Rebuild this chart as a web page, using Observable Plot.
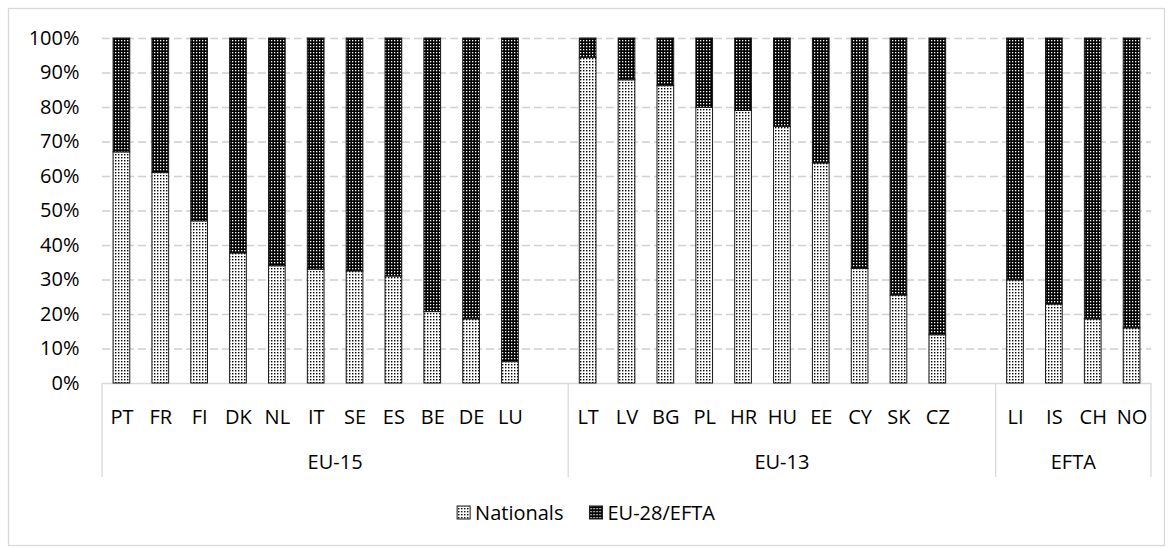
<!DOCTYPE html>
<html><head><meta charset="utf-8">
<script src="https://cdn.jsdelivr.net/npm/d3@7"></script>
<script src="https://cdn.jsdelivr.net/npm/@observablehq/plot@0.6"></script>
<style>
body{margin:0;background:#fff;font-family:"Open Sans",sans-serif;}
#chart{position:relative;width:1172px;height:548px;}
</style></head><body><div id="chart"></div>
<script>
// ---- data ----
const groupNames = ["EU-15", "EU-13", "EFTA"];
const eu15 = ["PT","FR","FI","DK","NL","IT","SE","ES","BE","DE","LU"];
const eu13 = ["LT","LV","BG","PL","HR","HU","EE","CY","SK","CZ"];
const efta = ["LI","IS","CH","NO"];
const seriesNames = ["Nationals", "EU-28/EFTA"];
// share of Nationals (%)
const nationals = [67, 61, 47, 37.7, 34, 33, 32.5, 31, 20.7, 18.6, 6.2,
                   94.4, 87.9, 86.2, 79.9, 79, 74.4, 63.8, 33.2, 25.5, 14,
                   29.9, 22.9, 18.6, 16];
// share of EU-28/EFTA (%)
const eu28efta = [33, 39, 53, 62.3, 66, 67, 67.5, 69, 79.3, 81.4, 93.8,
                  5.6, 12.1, 13.8, 20.1, 21, 25.6, 36.2, 66.8, 74.5, 86,
                  70.1, 77.1, 81.4, 84];
const yTicks = [0, 0.1, 0.2, 0.3, 0.4, 0.5, 0.6, 0.7, 0.8, 0.9, 1];

// ---- build table ----
const groupMembers = [eu15, eu13, efta];
const spacers = ["_gap1", "_gap2"];
const xDomain = [...eu15, spacers[0], ...eu13, spacers[1], ...efta];
const countries = [...eu15, ...eu13, ...efta];
const rows = [];
countries.forEach((c, i) => {
  rows.push({country: c, series: seriesNames[0], share: nationals[i] / 100});
  rows.push({country: c, series: seriesNames[1], share: eu28efta[i] / 100});
});

const FONT = "'Open Sans', sans-serif";
const chart = Plot.plot({
  width: 1172, height: 548,
  marginLeft: 102, marginRight: 21, marginTop: 38, marginBottom: 165,
  style: {fontFamily: FONT, fontSize: "20px", color: "#000", background: "transparent", overflow: "visible"},
  x: {domain: xDomain, paddingInner: 0.57, paddingOuter: 0.285, round: false, label: null},
  y: {domain: [0, 1], label: null},
  color: {type: "ordinal", domain: seriesNames, range: ["url(#patNat)", "url(#patEU)"]},
  marks: [
    Plot.gridY(yTicks.filter(d => d > 0), {stroke: "#d0d0d0", strokeOpacity: 1, strokeWidth: 1.3, strokeDasharray: "8,4"}),
    Plot.ruleY([0], {stroke: "#d9d9d9", strokeWidth: 1.3}),
    Plot.barY(rows, {x: "country", y: "share", fill: "series", z: "series", order: seriesNames, stroke: "#1a1a1a", strokeWidth: 1}),
    Plot.axisY({ticks: yTicks, tickFormat: d3.format(".0%"), tickSize: 0, tickPadding: 23, fontSize: 20, label: null}),
    Plot.axisX({tickSize: 0, tickPadding: 26, fontSize: 20, label: null, tickFormat: d => d.startsWith("_") ? "" : d})
  ]
});
document.getElementById("chart").appendChild(chart);

// ---- patterns ----
const svg = d3.select(chart);
const defs = svg.insert("defs", ":first-child");
const pn = defs.append("pattern").attr("id", "patNat").attr("patternUnits", "userSpaceOnUse").attr("width", 3).attr("height", 3);
pn.append("rect").attr("width", 3).attr("height", 3).attr("fill", "#fff");
pn.append("rect").attr("x", 1).attr("y", 1).attr("width", 1.4).attr("height", 1.4).attr("fill", "#000");
const pe = defs.append("pattern").attr("id", "patEU").attr("patternUnits", "userSpaceOnUse").attr("width", 3).attr("height", 3);
pe.append("rect").attr("width", 3).attr("height", 3).attr("fill", "#000");
pe.append("rect").attr("x", 1).attr("y", 1).attr("width", 1.3).attr("height", 1.3).attr("fill", "#fff");

// ---- group separators and labels, from the Plot scales ----
const xs = chart.scale("x");
const ys = chart.scale("y");
const step = xs.step, bw = xs.bandwidth;
const leftOf = d => xs.apply(d) - (step - bw) / 2;
const y0 = ys.apply(0);
const extra = svg.append("g").attr("font-family", FONT).attr("font-size", 20);
const bounds = [];
groupMembers.forEach((members, gi) => {
  const first = members[0];
  const lastIdx = gi < spacers.length ? xDomain.indexOf(spacers[gi]) : xDomain.indexOf(members[members.length - 1]);
  const x0 = leftOf(first);
  const x1 = leftOf(xDomain[lastIdx]) + step;
  bounds.push([x0, x1]);
  extra.append("text").attr("x", (x0 + x1) / 2).attr("y", y0 + 79).attr("dy", "0.36em")
    .attr("text-anchor", "middle").text(groupNames[gi]);
});
const sepX = [...bounds.map(b => b[0]), bounds[bounds.length - 1][1]];
sepX.forEach(x => {
  extra.append("line").attr("x1", x).attr("x2", x).attr("y1", y0).attr("y2", y0 + 94)
    .attr("stroke", "#d9d9d9").attr("stroke-width", 1.3);
});

// ---- legend (centred under the chart) ----
const lg = svg.append("g").attr("font-family", FONT).attr("font-size", 20).attr("text-anchor", "start");
const sw = 13, gapText = 5, gapItem = 26;
const items = seriesNames.map((s, i) => {
  const g = lg.append("g");
  g.append("rect").attr("x", 0).attr("y", 506).attr("width", sw).attr("height", sw)
    .attr("fill", i === 0 ? "url(#patNat)" : "url(#patEU)").attr("stroke", "#1a1a1a").attr("stroke-width", 1);
  const t = g.append("text").attr("x", sw + gapText).attr("y", 513).attr("dy", "0.36em").attr("text-anchor", "start").text(s);
  return {g, w: sw + gapText + t.node().getComputedTextLength()};
});
const totalW = d3.sum(items, d => d.w) + gapItem * (items.length - 1);
let lx = 586 - totalW / 2;
items.forEach(it => { it.g.attr("transform", `translate(${lx},0)`); lx += it.w + gapItem; });

// ---- outer border ----
svg.append("rect").attr("x", 8.5).attr("y", 8.5).attr("width", 1156).attr("height", 537)
  .attr("fill", "none").attr("stroke", "#d9d9d9").attr("stroke-width", 1.3);
</script>
</body></html>
